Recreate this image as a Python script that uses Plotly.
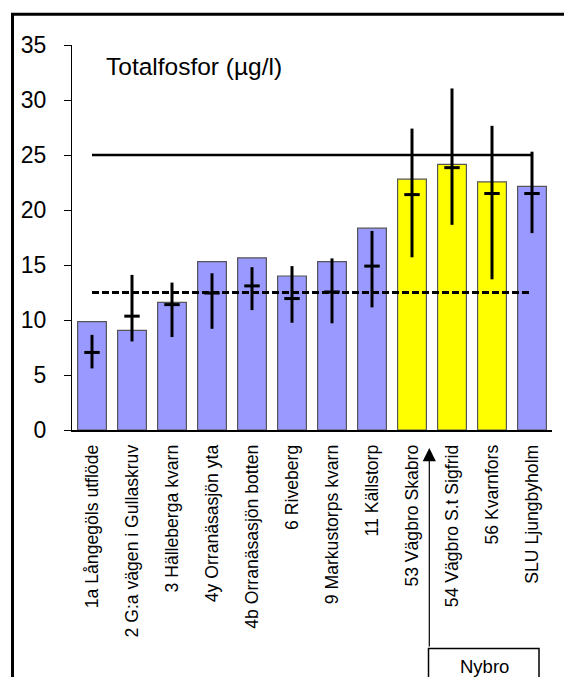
import plotly.graph_objects as go

sites = [
    "1a Långegöls utflöde",
    "2 G:a vägen i Gullaskruv",
    "3 Hälleberga kvarn",
    "4y Orranäsasjön yta",
    "4b Orranäsasjön botten",
    "6 Riveberg",
    "9 Markustorps kvarn",
    "11 Källstorp",
    "53 Vägbro Skabro",
    "54 Vägbro S.t Sigfrid",
    "56 Kvarnfors",
    "SLU Ljungbyholm",
]
nybro_sites = ["53 Vägbro Skabro", "54 Vägbro S.t Sigfrid", "56 Kvarnfors"]
bar_values = [9.85, 9.05, 11.6, 15.3, 15.65, 14.0, 15.3, 18.35, 22.8, 24.15, 22.55, 22.15]
mean_values = [7.05, 10.35, 11.4, 12.45, 13.1, 11.95, 12.55, 14.9, 21.4, 23.85, 21.5, 21.5]
max_values = [8.65, 14.1, 13.4, 14.25, 14.8, 14.9, 15.6, 18.1, 27.4, 31.05, 27.65, 25.3]
min_values = [5.6, 8.05, 8.45, 9.2, 10.9, 9.75, 9.7, 11.15, 15.7, 18.65, 13.7, 17.9]
limit_high = 25
limit_low = 12.5
y_ticks = [0, 5, 10, 15, 20, 25, 30, 35]
title_text = "Totalfosfor (µg/l)"
group_label = "Nybro"

FONT = "Arial, 'Liberation Sans', sans-serif"
colors = ["#FFFF00" if s in nybro_sites else "#9999FF" for s in sites]

fig = go.Figure()
fig.add_trace(go.Bar(
    x=sites, y=bar_values,
    marker=dict(color=colors, line=dict(color="#555555", width=1.2)),
    width=0.72, hoverinfo="skip",
))
fig.add_trace(go.Scatter(
    x=[sites[0], sites[-1]], y=[limit_high, limit_high], mode="lines",
    line=dict(color="black", width=2.7),
))
fig.add_trace(go.Scatter(
    x=[sites[0], sites[-1]], y=[limit_low, limit_low], mode="lines",
    line=dict(color="black", width=3, dash="7px,3px"),
))
fig.add_trace(go.Scatter(
    x=sites, y=mean_values, mode="markers",
    marker=dict(symbol="line-ew", size=11, line=dict(color="black", width=3)),
    error_y=dict(
        type="data", symmetric=False,
        array=[mx - m for mx, m in zip(max_values, mean_values)],
        arrayminus=[m - mn for m, mn in zip(mean_values, min_values)],
        width=0, thickness=3, color="black",
    ),
))

fig.update_layout(
    width=564, height=677,
    margin=dict(l=72, r=12, t=45, b=247, pad=0),
    paper_bgcolor="white", plot_bgcolor="white",
    showlegend=False,
    font=dict(family=FONT, color="black"),
    bargap=0.28,
)
fig.update_yaxes(
    range=[0, 35], tickvals=y_ticks, showgrid=False, zeroline=False,
    showline=True, linecolor="black", linewidth=1,
    ticks="outside", ticklen=7, tickwidth=1, tickcolor="black",
    tickfont=dict(size=23, family=FONT, color="black"),
    ticklabelstandoff=13,
)
fig.update_xaxes(
    range=[-0.5, 11.5], showgrid=False, zeroline=False,
    showline=True, linecolor="black", linewidth=1.5,
    ticks="", tickangle=-90,
    tickfont=dict(size=17.6, family=FONT, color="black"),
    ticklabelstandoff=6,
)

def px_x(p):
    return (p - 72) / 480.0

def px_y(p):
    return (430 - p) / 385.0

fig.add_annotation(
    xref="paper", yref="paper", x=px_x(104), y=px_y(66),
    xanchor="left", yanchor="middle", text=title_text, showarrow=False,
    font=dict(size=24.5, family=FONT, color="black"),
)
# outer frame
fig.add_shape(type="rect", xref="paper", yref="paper",
              x0=px_x(12.5), x1=px_x(620), y0=px_y(14.3), y1=px_y(720),
              line=dict(color="black", width=3), fillcolor="rgba(0,0,0,0)", layer="above")
# Nybro box
fig.add_shape(type="rect", xref="paper", yref="paper",
              x0=px_x(428.5), x1=px_x(539), y0=px_y(648.5), y1=px_y(700),
              line=dict(color="black", width=1.5), fillcolor="rgba(0,0,0,0)", layer="above")
fig.add_annotation(
    xref="paper", yref="paper", x=px_x(484), y=px_y(666),
    xanchor="center", yanchor="middle", text=group_label, showarrow=False,
    font=dict(size=18.5, family=FONT, color="black"),
)
# arrow
fig.add_annotation(
    xref="paper", yref="paper", x=px_x(429.3), y=px_y(448),
    axref="pixel", ayref="pixel", ax=0, ay=200,
    text="", showarrow=True, arrowhead=2, arrowsize=2.2, arrowwidth=1.2,
    arrowcolor="black", standoff=0, startstandoff=0,
)

fig.write_html("out.html", config={"displayModeBar": False},
               post_script="document.body.style.margin='0px';")
